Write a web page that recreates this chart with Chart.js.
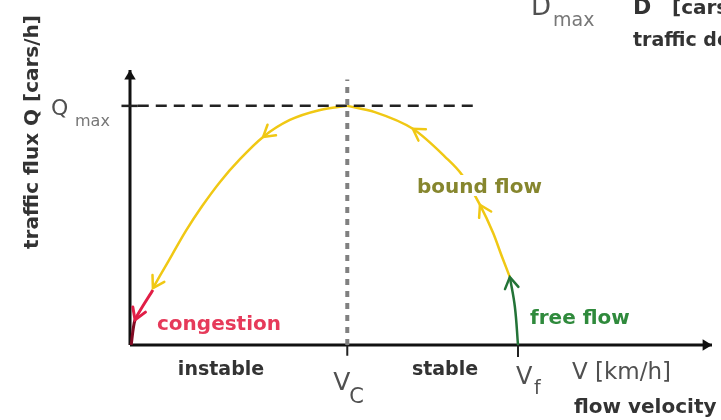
<!DOCTYPE html>
<html lang="en">
<head>
    <meta charset="UTF-8">
    <title>Traffic flow diagram</title>
    <script src="https://cdn.jsdelivr.net/npm/chart.js@4.4.0/dist/chart.umd.min.js"></script>
    <style>
        body { margin: 0; background: #fff; }
        #wrap { width: 721px; height: 420px; }
    </style>
</head>
<body>
<div id="wrap"><canvas id="flowChart"></canvas></div>
<script>

    // axis extents and marked values (V in km/h, Q in cars/h, arbitrary units)
    const xMax  = 150;
    const yMax  = 115;
    const vCrit = 56;
    const vFree = 100;
    const qMax  = 100;

    // yellow curve, instable branch: from the maximum down to congestion
    const instableV = [56, 49, 41.2, 34.3, 28.4, 23.2, 18.6, 14.4, 10.8, 7.7, 5.9];
    const instableQ = [100, 98.3, 94.1, 87, 77.8, 68.2, 58.1, 47.7, 37.6, 28.9, 23.8];

    // yellow curve, bound flow: from the end of free flow up to the maximum
    const boundV = [97.9, 95.9, 93.6, 90.2, 85.6, 81.2, 72.9, 63.1, 56];
    const boundQ = [28.4, 36.8, 46.8, 58.6, 71.1, 78.7, 90.4, 97.4, 100];

    // green free flow and red congestion
    const freeV = [100, 99.2, 97.9];
    const freeQ = [0, 15.9, 28.4];
    const congV = [5.9, 1.3, 0.3];
    const congQ = [23, 10.5, 0];

    function pts( xs, ys ) {
        return xs.map( (x, i) => ({ x: x, y: ys[i] }) );
    }

    // arrow heads at the points listed in dataset.arrows
    const arrowPlugin = {
        id: 'arrows',
        afterDatasetsDraw( chart ) {
            const ctx = chart.ctx;
            chart.data.datasets.forEach( (ds, di) => {
                if ( !ds.arrows ) return;
                const meta = chart.getDatasetMeta(di);
                ds.arrows.forEach( i => {
                    const p = meta.data[i];
                    let dx = p.x - (p.cp1x ?? p.x);
                    let dy = p.y - (p.cp1y ?? p.y);
                    if ( Math.hypot(dx, dy) < 0.5 ) {
                        const q = meta.data[i - 1];
                        dx = p.x - q.x;
                        dy = p.y - q.y;
                    }
                    const a = Math.atan2(dy, dx);
                    const len = ds.arrowSize || 13;
                    const spread = 0.55;
                    ctx.save();
                    ctx.strokeStyle = ds.borderColor;
                    ctx.fillStyle = ds.borderColor;
                    ctx.lineWidth = ds.borderWidth;
                    ctx.lineCap = 'round';
                    ctx.beginPath();
                    ctx.moveTo( p.x - len * Math.cos(a - spread), p.y - len * Math.sin(a - spread) );
                    ctx.lineTo( p.x, p.y );
                    ctx.lineTo( p.x - len * Math.cos(a + spread), p.y - len * Math.sin(a + spread) );
                    if ( ds.arrowFilled ) {
                        ctx.closePath();
                        ctx.fill();
                    } else {
                        ctx.stroke();
                    }
                    ctx.restore();
                });
            });
        }
    };

    function label( ctx, text, x, y, font, color, align ) {
        ctx.font = font;
        ctx.fillStyle = color;
        ctx.textAlign = align || 'left';
        ctx.textBaseline = 'alphabetic';
        ctx.fillText( text, x, y );
    }

    const textPlugin = {
        id: 'texts',
        afterDatasetsDraw( chart ) {
            const ctx = chart.ctx;
            const xs = chart.scales.x;
            const ys = chart.scales.y;
            const bottom = ys.getPixelForValue(0);
            const bold = 'bold 19px "DejaVu Sans"';
            const bold20 = 'bold 20px "DejaVu Sans"';
            const dark = '#333';
            const grey = '#505050';
            const sans = px => px + 'px "DejaVu Sans"';

            ctx.save();

            // white box behind "bound flow" so the curve breaks there
            ctx.font = bold20;
            const bw = ctx.measureText('bound flow').width;
            ctx.fillStyle = '#fff';
            ctx.fillRect( 415, 175, bw + 4, 21 );
            label( ctx, 'bound flow', 417, 193, bold20, '#86862e' );

            label( ctx, 'congestion', 157, 330, bold20, '#e63a5a' );
            label( ctx, 'free flow', 530, 324, bold20, '#2f8a3c' );

            label( ctx, 'instable', 221, bottom + 30, bold, dark, 'center' );
            label( ctx, 'stable', 445, bottom + 30, bold, dark, 'center' );

            const vc = xs.getPixelForValue(vCrit);
            label( ctx, 'V', vc - 14, bottom + 45, sans(25), grey );
            label( ctx, 'C', vc + 2, bottom + 58, sans(21), grey );

            const vf = xs.getPixelForValue(vFree);
            label( ctx, 'V', vf - 2, bottom + 39, sans(24), grey );
            label( ctx, 'f', vf + 16, bottom + 49, sans(19), grey );

            label( ctx, 'V [km/h]', 572, bottom + 34, sans(23), grey );
            label( ctx, 'flow velocity', 574, bottom + 68, bold20, dark );

            const qy = ys.getPixelForValue(qMax);
            label( ctx, 'Q', 51, qy + 9, sans(22), grey );
            label( ctx, 'max', 75, qy + 20, sans(16), '#777' );

            // pieces of the neighbouring diagram, cut off by the picture edge
            label( ctx, 'D', 531, 15, sans(26), grey );
            label( ctx, 'max', 553, 26, sans(19), '#777' );
            label( ctx, 'D', 633, 14, 'bold 22px "DejaVu Sans"', dark );
            label( ctx, '[cars/km]', 672, 14, 'bold 20px "DejaVu Sans"', dark );
            label( ctx, 'traffic density', 633, 46, bold, dark );

            // rotated y title
            ctx.translate( 31, 132 );
            ctx.rotate( -Math.PI / 2 );
            label( ctx, 'traffic flux Q [cars/h]', 0, 7, bold20, dark, 'center' );

            ctx.restore();
        }
    };

    const yellow = 'rgb(240, 200, 20)';
    const lineDefaults = { showLine: true, pointRadius: 0, fill: false, clip: false };

    const ctx = document.getElementById('flowChart').getContext('2d');
    const flowChart = new Chart(ctx, {
        type: 'scatter',
        data: {
            datasets: [
                { ...lineDefaults, data: pts([vCrit, vCrit], [0, 111]), borderColor: '#808080', borderWidth: 4, borderDash: [6, 6] },
                { ...lineDefaults, data: pts([2, 90], [qMax, qMax]), borderColor: '#222', borderWidth: 2.5, borderDash: [11, 7] },
                { ...lineDefaults, data: pts([-2.2, 2], [qMax, qMax]), borderColor: '#222', borderWidth: 2.5 },
                { ...lineDefaults, data: pts([vCrit, vCrit], [0, -4.5]), borderColor: '#222', borderWidth: 2 },
                { ...lineDefaults, data: pts([vFree, vFree], [0, -5]), borderColor: '#222', borderWidth: 2 },
                { ...lineDefaults, data: pts(instableV, instableQ), borderColor: yellow, borderWidth: 2.5, cubicInterpolationMode: 'monotone', arrows: [3, 10] },
                { ...lineDefaults, data: pts(boundV, boundQ), borderColor: yellow, borderWidth: 2.5, cubicInterpolationMode: 'monotone', arrows: [3, 6] },
                { ...lineDefaults, data: pts(freeV, freeQ), borderColor: 'rgb(35, 115, 55)', borderWidth: 2.5, tension: 0.4, arrows: [2] },
                { ...lineDefaults, data: pts(congV, congQ), borderColor: 'rgb(225, 30, 70)', borderWidth: 3, tension: 0.2, arrows: [1],
                  segment: { borderColor: c => c.p0DataIndex === 1 ? 'rgb(130, 10, 35)' : undefined } },
                { ...lineDefaults, data: pts([0, xMax], [0, 0]), borderColor: '#111', borderWidth: 3, arrows: [1], arrowFilled: true, arrowSize: 11 },
                { ...lineDefaults, data: pts([0, 0], [0, yMax]), borderColor: '#111', borderWidth: 3, arrows: [1], arrowFilled: true, arrowSize: 11 }
            ]
        },
        options: {
            responsive: true,
            maintainAspectRatio: false,
            animation: false,
            layout: { padding: { left: 130, right: 9, top: 70, bottom: 75 } },
            plugins: {
                legend: { display: false },
                tooltip: { enabled: false }
            },
            scales: {
                x: { type: 'linear', min: 0, max: xMax, display: false },
                y: { type: 'linear', min: 0, max: yMax, display: false }
            }
        },
        plugins: [arrowPlugin, textPlugin]
    });

</script>
</body>
</html>
